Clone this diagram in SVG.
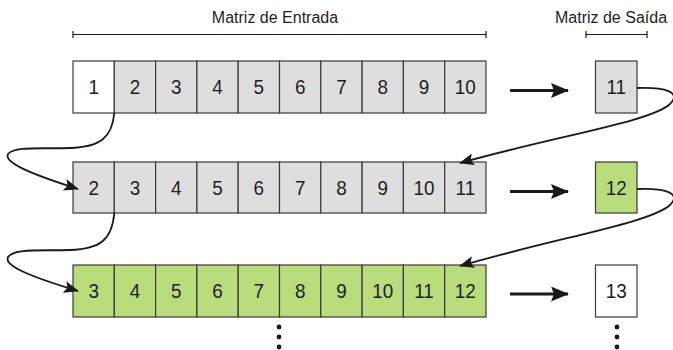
<svg xmlns="http://www.w3.org/2000/svg" width="673" height="350" viewBox="0 0 673 350">
<style>
.c{stroke:#3a3a3a;stroke-width:1.2}
.g{fill:#dedede}
.v{fill:#b9dc7c}
.w{fill:#ffffff}
text{font-family:"Liberation Sans",Arial,sans-serif;fill:#1e1e1e}
.n{font-size:21px;text-anchor:middle}
.t{font-size:16px;text-anchor:middle}
.ln{fill:none;stroke:#1a1a1a;stroke-width:1.8}
.ha{fill:none;stroke:#1a1a1a;stroke-width:3}
.br{stroke:#1a1a1a;stroke-width:1.2}
</style>
<defs>
<marker id="ah" viewBox="0 0 15 12" refX="14" refY="6" markerWidth="15" markerHeight="12" markerUnits="userSpaceOnUse" orient="auto">
<path d="M0,0 L15,6 L0,12 L3,6 Z" fill="#1a1a1a"/>
</marker>
<marker id="bh" viewBox="0 0 18 15" refX="17" refY="7.5" markerWidth="18" markerHeight="15" markerUnits="userSpaceOnUse" orient="auto">
<path d="M0,0 L18,7.5 L0,15 L3,7.5 Z" fill="#1a1a1a"/>
</marker>
</defs>

<g id="labels">
<text class="t" x="275" y="23">Matriz de Entrada</text>
<line class="br" x1="73" y1="34.5" x2="486" y2="34.5"/>
<line class="br" x1="73" y1="31" x2="73" y2="38"/>
<line class="br" x1="486" y1="31" x2="486" y2="38"/>
<text class="t" x="611" y="23">Matriz de Saída</text>
<line class="br" x1="586" y1="34.5" x2="647" y2="34.5"/>
<line class="br" x1="586" y1="31" x2="586" y2="38"/>
<line class="br" x1="647" y1="31" x2="647" y2="38"/>
</g>

<g id="row1">
<rect class="c w" x="73" y="61" width="41.3" height="52"/>
<rect class="c g" x="114.3" y="61" width="41.3" height="52"/>
<rect class="c g" x="155.6" y="61" width="41.3" height="52"/>
<rect class="c g" x="196.9" y="61" width="41.3" height="52"/>
<rect class="c g" x="238.2" y="61" width="41.3" height="52"/>
<rect class="c g" x="279.5" y="61" width="41.3" height="52"/>
<rect class="c g" x="320.8" y="61" width="41.3" height="52"/>
<rect class="c g" x="362.1" y="61" width="41.3" height="52"/>
<rect class="c g" x="403.4" y="61" width="41.3" height="52"/>
<rect class="c g" x="444.7" y="61" width="41.3" height="52"/>
<g transform="scale(0.9,1)">
<text class="n" x="104.06" y="94.5">1</text>
<text class="n" x="149.94" y="94.5">2</text>
<text class="n" x="195.83" y="94.5">3</text>
<text class="n" x="241.72" y="94.5">4</text>
<text class="n" x="287.61" y="94.5">5</text>
<text class="n" x="333.5" y="94.5">6</text>
<text class="n" x="379.39" y="94.5">7</text>
<text class="n" x="425.28" y="94.5">8</text>
<text class="n" x="471.17" y="94.5">9</text>
<text class="n" x="517.06" y="94.5">10</text>
</g>
</g>

<g id="row2">
<rect class="c g" x="73" y="162" width="41.3" height="51"/>
<rect class="c g" x="114.3" y="162" width="41.3" height="51"/>
<rect class="c g" x="155.6" y="162" width="41.3" height="51"/>
<rect class="c g" x="196.9" y="162" width="41.3" height="51"/>
<rect class="c g" x="238.2" y="162" width="41.3" height="51"/>
<rect class="c g" x="279.5" y="162" width="41.3" height="51"/>
<rect class="c g" x="320.8" y="162" width="41.3" height="51"/>
<rect class="c g" x="362.1" y="162" width="41.3" height="51"/>
<rect class="c g" x="403.4" y="162" width="41.3" height="51"/>
<rect class="c g" x="444.7" y="162" width="41.3" height="51"/>
<g transform="scale(0.9,1)">
<text class="n" x="104.06" y="195">2</text>
<text class="n" x="149.94" y="195">3</text>
<text class="n" x="195.83" y="195">4</text>
<text class="n" x="241.72" y="195">5</text>
<text class="n" x="287.61" y="195">6</text>
<text class="n" x="333.5" y="195">7</text>
<text class="n" x="379.39" y="195">8</text>
<text class="n" x="425.28" y="195">9</text>
<text class="n" x="471.17" y="195">10</text>
<text class="n" x="517.06" y="195">11</text>
</g>
</g>

<g id="row3">
<rect class="c v" x="73" y="265" width="41.3" height="52"/>
<rect class="c v" x="114.3" y="265" width="41.3" height="52"/>
<rect class="c v" x="155.6" y="265" width="41.3" height="52"/>
<rect class="c v" x="196.9" y="265" width="41.3" height="52"/>
<rect class="c v" x="238.2" y="265" width="41.3" height="52"/>
<rect class="c v" x="279.5" y="265" width="41.3" height="52"/>
<rect class="c v" x="320.8" y="265" width="41.3" height="52"/>
<rect class="c v" x="362.1" y="265" width="41.3" height="52"/>
<rect class="c v" x="403.4" y="265" width="41.3" height="52"/>
<rect class="c v" x="444.7" y="265" width="41.3" height="52"/>
<g transform="scale(0.9,1)">
<text class="n" x="104.06" y="298">3</text>
<text class="n" x="149.94" y="298">4</text>
<text class="n" x="195.83" y="298">5</text>
<text class="n" x="241.72" y="298">6</text>
<text class="n" x="287.61" y="298">7</text>
<text class="n" x="333.5" y="298">8</text>
<text class="n" x="379.39" y="298">9</text>
<text class="n" x="425.28" y="298">10</text>
<text class="n" x="471.17" y="298">11</text>
<text class="n" x="517.06" y="298">12</text>
</g>
</g>

<g id="out11">
<rect class="c g" x="595.5" y="61" width="41.5" height="52"/>
<text class="n" x="684.72" y="94.5" transform="scale(0.9,1)">11</text>
</g>
<g id="out12">
<rect class="c v" x="595.5" y="162" width="41.5" height="51"/>
<text class="n" x="684.72" y="195" transform="scale(0.9,1)">12</text>
</g>
<g id="out13">
<rect class="c w" x="595.5" y="265" width="41.5" height="52"/>
<text class="n" x="684.72" y="298" transform="scale(0.9,1)">13</text>
</g>

<g id="dots" fill="#1a1a1a">
<circle cx="279" cy="327" r="2.4"/>
<circle cx="279" cy="337" r="2.4"/>
<circle cx="279" cy="347" r="2.4"/>
<circle cx="617" cy="327" r="2.4"/>
<circle cx="617" cy="337" r="2.4"/>
<circle cx="617" cy="347" r="2.4"/>
</g>

<g id="connectors">
<path class="ha" d="M510,90.5 L568,90.5" marker-end="url(#bh)"/>
<path class="ha" d="M510,191.5 L568,191.5" marker-end="url(#bh)"/>
<path class="ha" d="M510,294 L568,294" marker-end="url(#bh)"/>
<path class="ln" d="M114.3,113 C112,138 100,147 70,148 C40,149 15,146 8,154 C4,162 25,172 78,189" marker-end="url(#ah)"/>
<path class="ln" d="M114.3,213 C112,240 100,249 70,250 C40,251 15,248 8,257 C4,265 25,275 78,291" marker-end="url(#ah)"/>
<path class="ln" d="M637,88 C665,87 682,92 670,104 C650,122 560,135 460,163" marker-end="url(#ah)"/>
<path class="ln" d="M637,189 C665,188 682,193 670,205 C650,223 560,237 460,266" marker-end="url(#ah)"/>
</g>
</svg>
